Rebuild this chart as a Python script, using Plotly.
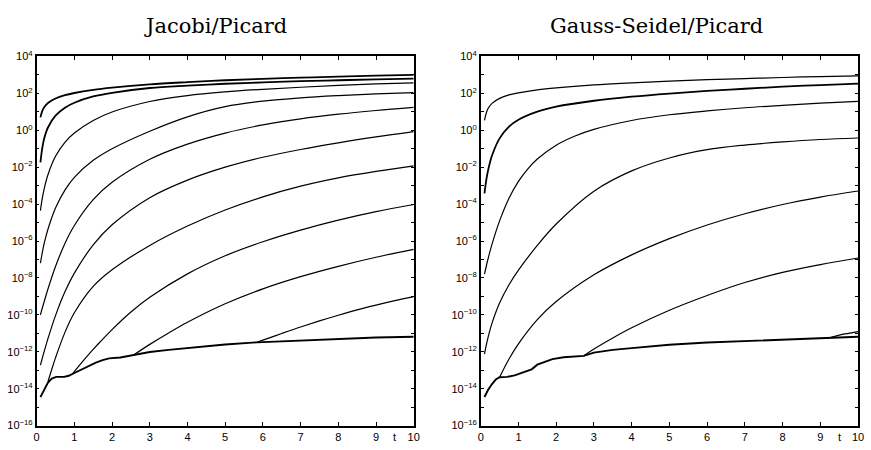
import plotly.graph_objects as go

# ---------------- data (values are log10 of the plotted error) ----------------
T_MAIN = [0.1, 0.15, 0.2, 0.3, 0.5, 0.75, 1, 1.5, 2, 3, 4, 5, 6, 7, 8, 9, 10]

# Jacobi/Picard
jac_c1 = [0.7, 1.05, 1.25, 1.48, 1.72, 1.9, 2.02, 2.19, 2.31, 2.49, 2.61, 2.71, 2.79, 2.85, 2.91, 2.96, 3.0]
jac_c2 = [-1.74, -0.95, -0.45, 0.15, 0.79, 1.22, 1.49, 1.83, 2.03, 2.29, 2.42, 2.52, 2.59, 2.66, 2.71, 2.76, 2.8]
jac_c3 = [-4.35, -3.68, -3.17, -2.41, -1.41, -0.65, -0.15, 0.53, 0.99, 1.56, 1.88, 2.08, 2.22, 2.33, 2.43, 2.51, 2.57]
jac_c4 = [-7.2, -6.62, -6.13, -5.36, -4.21, -3.24, -2.55, -1.63, -1.0, -0.05, 0.73, 1.28, 1.58, 1.76, 1.88, 1.97, 2.04]
jac_c5 = [-10.0, -9.63, -9.28, -8.6, -7.38, -6.13, -5.16, -3.76, -2.82, -1.57, -0.75, -0.15, 0.29, 0.62, 0.87, 1.07, 1.24]
jac_c6 = [-12.72, -12.35, -11.98, -11.29, -10.04, -8.75, -7.74, -6.21, -5.12, -3.65, -2.7, -2.0, -1.46, -1.04, -0.68, -0.36, -0.07]

jac_t7 = [0.3, 0.4, 0.5, 0.75, 1, 1.5, 2, 3, 4, 5, 6, 7, 8, 9, 10]
jac_c7 = [-13.62, -12.96, -12.33, -10.95, -9.89, -8.46, -7.56, -6.24, -5.19, -4.32, -3.61, -3.03, -2.58, -2.23, -1.93]
jac_t8 = [0.95, 1.1, 1.3, 1.5, 1.7, 2, 2.5, 3, 4, 5, 6, 7, 8, 9, 10]
jac_c8 = [-13.2, -12.82, -12.33, -11.87, -11.43, -10.8, -9.85, -9.05, -7.78, -6.8, -6.04, -5.41, -4.87, -4.41, -4.02]
jac_t9 = [2.57, 3, 3.5, 4, 5, 6, 7, 8, 9, 10]
jac_c9 = [-12.18, -11.6, -10.98, -10.4, -9.4, -8.59, -7.93, -7.37, -6.88, -6.45]
jac_t10 = [5.84, 6, 6.5, 7, 7.5, 8, 8.5, 9, 9.5, 10]
jac_c10 = [-11.49, -11.37, -11.01, -10.66, -10.33, -10.02, -9.73, -9.47, -9.23, -9.01]
jac_tf = [0.1, 0.2, 0.3, 0.4, 0.52, 0.73, 0.85, 1.0, 1.15, 1.3, 1.45, 1.57, 1.75, 1.92,
          2.22, 2.57, 2.83, 3.0, 3.5, 4, 4.5, 5, 5.84, 7, 8, 9, 10]
jac_floor = [-14.46, -14.1, -13.67, -13.45, -13.36, -13.36, -13.3, -13.15, -13.0, -12.89,
             -12.7, -12.59, -12.45, -12.36, -12.31, -12.18, -12.1, -12.01, -11.9, -11.8,
             -11.72, -11.61, -11.49, -11.38, -11.3, -11.23, -11.19]

# Gauss-Seidel/Picard
gs_r1 = [0.54, 0.95, 1.2, 1.46, 1.73, 1.92, 2.03, 2.19, 2.3, 2.46, 2.57, 2.66, 2.74, 2.8, 2.86, 2.91, 2.95]
gs_r2 = [-3.42, -2.66, -2.13, -1.37, -0.44, 0.2, 0.57, 1.01, 1.28, 1.6, 1.82, 1.99, 2.13, 2.25, 2.36, 2.45, 2.53]
gs_t3 = [0.1, 0.15, 0.2, 0.3, 0.5, 0.75, 1, 1.25, 1.5, 2, 2.5, 3, 4, 5, 6, 7, 8, 9, 10]
gs_r3 = [-7.8, -7.34, -6.92, -6.17, -4.91, -3.68, -2.77, -2.09, -1.56, -0.81, -0.31, 0.05, 0.53, 0.84, 1.05, 1.22, 1.35, 1.47, 1.57]
gs_r4 = [-12.13, -11.62, -11.18, -10.45, -9.36, -8.37, -7.58, -6.24, -5.08, -3.3, -2.2, -1.5, -1.05, -0.8, -0.63, -0.5, -0.42]
gs_t5 = [0.5, 0.75, 1, 1.5, 2, 3, 4, 5, 6, 7, 8, 9, 10]
gs_r5 = [-13.38, -12.39, -11.57, -10.26, -9.28, -7.83, -6.75, -5.87, -5.13, -4.52, -4.02, -3.62, -3.29]
gs_t6 = [2.73, 3, 3.5, 4, 5, 6, 7, 8, 9, 10]
gs_r6 = [-12.22, -11.85, -11.25, -10.7, -9.75, -8.95, -8.25, -7.7, -7.28, -6.92]
gs_t7 = [9.28, 9.5, 9.75, 10]
gs_r7 = [-11.22, -11.1, -11.0, -10.91]
gs_tf = [0.1, 0.2, 0.3, 0.4, 0.5, 0.7, 0.9, 1.1, 1.25, 1.35, 1.5, 1.7, 1.9, 2.2, 2.5, 2.73,
         3.0, 3.5, 4, 4.5, 5, 6, 7, 8, 9, 9.28, 10]
gs_floor = [-14.45, -14.05, -13.75, -13.5, -13.38, -13.36, -13.28, -13.12, -13.0, -12.95,
            -12.7, -12.55, -12.4, -12.3, -12.27, -12.22, -12.05, -11.9, -11.8, -11.7,
            -11.62, -11.5, -11.42, -11.36, -11.27, -11.22, -11.19]

X_TICKS = [0, 1, 2, 3, 4, 5, 6, 7, 8, 9, 10]
X_TICKTEXT = ["0", "1", "2", "3", "4", "5", "6", "7", "8", "9", "10"]
Y_MAJOR_EXP = [-16, -14, -12, -10, -8, -6, -4, -2, 0, 2, 4]
Y_MINOR_EXP = [-15, -13, -11, -9, -7, -5, -3, -1, 1, 3]
TITLES = ["Jacobi/Picard", "Gauss-Seidel/Picard"]

# ---------------- figure ----------------
fig = go.Figure()


def add_curve(t, logv, xa, ya, width, shape="spline"):
    line = dict(color="black", width=width, shape=shape)
    if shape == "spline":
        line["smoothing"] = 1.0
    fig.add_trace(go.Scatter(
        x=t, y=[10 ** v for v in logv], mode="lines", line=line,
        xaxis=xa, yaxis=ya, showlegend=False, hoverinfo="skip"))


left = [(T_MAIN, jac_c1, 1.8), (T_MAIN, jac_c2, 1.8), (T_MAIN, jac_c3, 1.2),
        (T_MAIN, jac_c4, 1.2), (T_MAIN, jac_c5, 1.2), (T_MAIN, jac_c6, 1.2),
        (jac_t7, jac_c7, 1.2), (jac_t8, jac_c8, 1.2), (jac_t9, jac_c9, 1.2),
        (jac_t10, jac_c10, 1.2)]
right = [(T_MAIN, gs_r1, 1.2), (T_MAIN, gs_r2, 1.8), (gs_t3, gs_r3, 1.2),
         (T_MAIN, gs_r4, 1.2), (gs_t5, gs_r5, 1.2), (gs_t6, gs_r6, 1.2),
         (gs_t7, gs_r7, 1.2)]
for t, v, w in left:
    add_curve(t, v, "x", "y", w)
add_curve(jac_tf, jac_floor, "x", "y", 1.9, "linear")
for t, v, w in right:
    add_curve(t, v, "x2", "y2", w)
add_curve(gs_tf, gs_floor, "x2", "y2", 1.9, "linear")

tickfont = dict(family="Liberation Sans, Arial, sans-serif", size=11, color="black")
y_tickvals = [10.0 ** k for k in Y_MAJOR_EXP]
y_ticktext = ["10<sup>%s</sup>" % str(k).replace("-", "\u2212") for k in Y_MAJOR_EXP]
y_minor = [10.0 ** k for k in Y_MINOR_EXP]

xcommon = dict(range=[0, 10], tickmode="array", tickvals=X_TICKS, ticktext=X_TICKTEXT,
               ticks="inside", ticklen=4, tickwidth=1, tickcolor="black",
               showline=True, linecolor="black", linewidth=1.6, mirror="ticks",
               showgrid=False, zeroline=False, tickfont=tickfont, fixedrange=True)
ycommon = dict(type="log", range=[-16, 4], tickmode="array", tickvals=y_tickvals,
               ticktext=y_ticktext, ticks="inside", ticklen=3, tickwidth=1,
               tickcolor="black", showline=True, linecolor="black", linewidth=1.6,
               mirror="ticks", showgrid=False, zeroline=False, tickfont=tickfont,
               fixedrange=True,
               minor=dict(tickmode="array", tickvals=y_minor, ticks="inside",
                          ticklen=3, tickwidth=1, tickcolor="black", showgrid=False))

W, H = 871, 450
ydom = [(H - 431) / H, (H - 50) / H]
fig.update_layout(
    width=W, height=H, margin=dict(l=0, r=0, t=0, b=0),
    paper_bgcolor="white", plot_bgcolor="white",
    xaxis=dict(domain=[34 / W, 415 / W], anchor="y", **xcommon),
    yaxis=dict(domain=ydom, anchor="x", **ycommon),
    xaxis2=dict(domain=[482.7 / W, 864 / W], anchor="y2", **xcommon),
    yaxis2=dict(domain=ydom, anchor="x2", **ycommon),
)

title_font = dict(family="DejaVu Serif, serif", size=21, color="black")
for xc, txt in zip([215 / W, 660 / W], TITLES):
    fig.add_annotation(x=xc, y=(H - 19) / H, xref="paper", yref="paper", text=txt,
                       showarrow=False, font=title_font, xanchor="center", yanchor="middle")
for xr in ["x", "x2"]:
    fig.add_annotation(x=9.5, y=(H - 442.5) / H, xref=xr, yref="paper", text="t",
                       showarrow=False, font=tickfont, xanchor="center", yanchor="middle")

fig.write_html("out.html")
